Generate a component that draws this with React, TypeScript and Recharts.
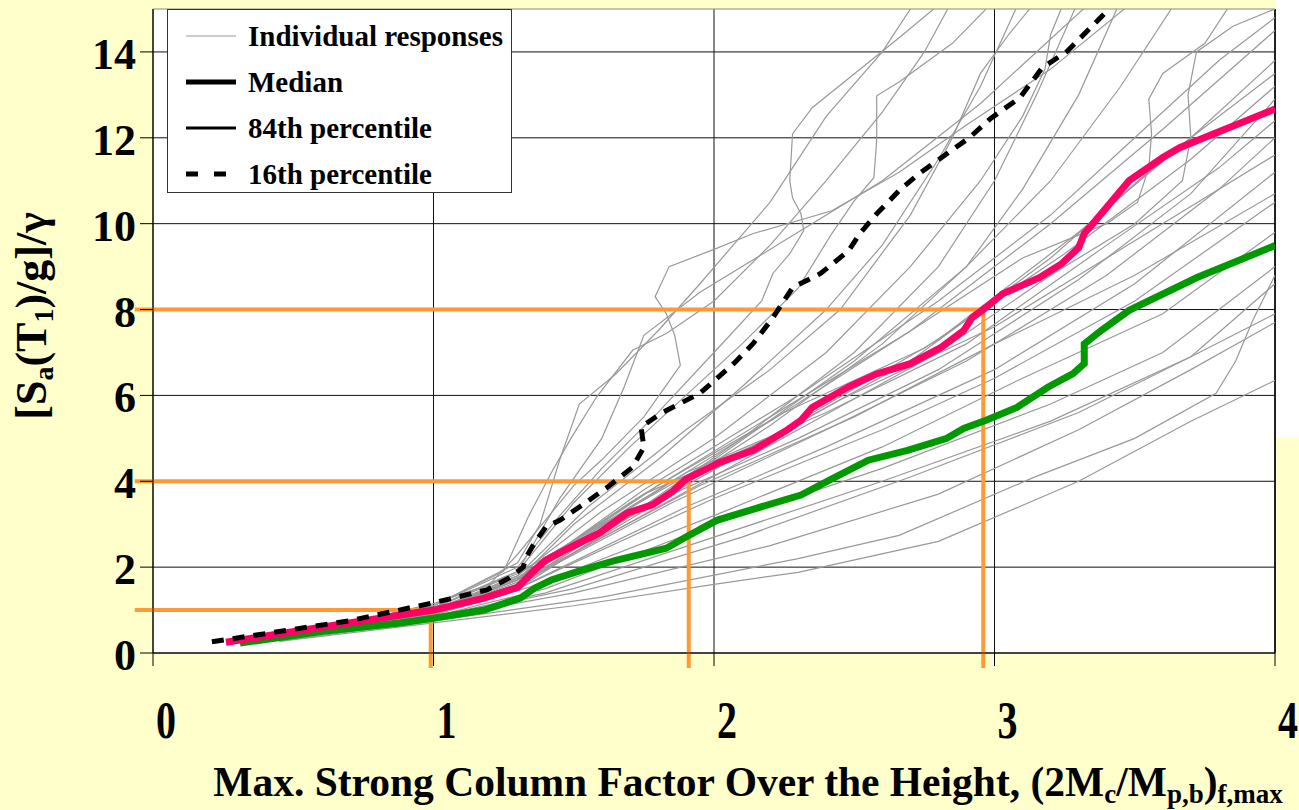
import React from "react"
import { CartesianGrid, Legend, Line, LineChart, ReferenceLine, XAxis, YAxis } from "recharts"

type Pt = [number, number]

const xTicks = [0, 1, 2, 3, 4]
const yTicks = [0, 2, 4, 6, 8, 10, 12, 14]

// thick summary curves: [factor, Sa/g/gamma]
const median: Pt[] = [
  [0.26, 0.25], [0.6, 0.6], [1.0, 1.0], [1.18, 1.28], [1.3, 1.53], [1.36, 1.93], [1.4, 2.16], [1.47, 2.4],
  [1.59, 2.79], [1.69, 3.26], [1.78, 3.45], [1.85, 3.75], [1.9, 4.05], [2.02, 4.44], [2.14, 4.72], [2.26, 5.19],
  [2.31, 5.42], [2.35, 5.72], [2.48, 6.2], [2.58, 6.5], [2.7, 6.74], [2.81, 7.12], [2.89, 7.51], [2.92, 7.81],
  [2.97, 8.05], [3.03, 8.37], [3.16, 8.74], [3.24, 9.07], [3.3, 9.44], [3.32, 9.77], [3.36, 10.07], [3.48, 11.0],
  [3.6, 11.54], [3.66, 11.77], [3.78, 12.09], [4.0, 12.67],
]

const pct84: Pt[] = [
  [0.31, 0.23], [0.6, 0.5], [0.88, 0.7], [1.0, 0.81], [1.18, 1.0], [1.31, 1.28], [1.36, 1.51], [1.42, 1.7],
  [1.53, 1.93], [1.65, 2.16], [1.83, 2.44], [1.9, 2.7], [2.01, 3.09], [2.13, 3.33], [2.31, 3.68], [2.41, 4.02],
  [2.55, 4.49], [2.69, 4.72], [2.83, 5.0], [2.89, 5.23], [2.97, 5.42], [3.08, 5.72], [3.19, 6.19], [3.28, 6.51],
  [3.32, 6.74], [3.32, 7.2], [3.38, 7.51], [3.48, 7.98], [3.72, 8.74], [4.0, 9.49],
]

const pct16: Pt[] = [
  [0.21, 0.26], [0.35, 0.4], [0.7, 0.75], [1.0, 1.17], [1.19, 1.47], [1.27, 1.75], [1.32, 2.0], [1.33, 2.23],
  [1.36, 2.56], [1.4, 2.93], [1.45, 3.09], [1.52, 3.4], [1.62, 3.86], [1.71, 4.33], [1.75, 4.79], [1.74, 5.26],
  [1.81, 5.58], [1.95, 6.05], [2.07, 6.74], [2.14, 7.21], [2.21, 7.81], [2.28, 8.51], [2.38, 8.84], [2.48, 9.37],
  [2.52, 9.77], [2.58, 10.23], [2.66, 10.77], [2.73, 11.16], [2.91, 12.0], [2.99, 12.47], [3.09, 12.93],
  [3.17, 13.63], [3.26, 14.02], [3.39, 14.88],
]

// individual responses (thin grey)
const responses: Pt[][] = [
  [[0.3, 0.3], [0.7, 0.7], [1.0, 1.15], [1.2, 1.6], [1.3, 2.3], [1.4, 3.1], [1.5, 3.9], [1.6, 4.5], [1.75, 5.5], [1.88, 6.7], [1.86, 7.4], [1.83, 7.9], [1.79, 8.3], [1.84, 9.0], [2.0, 9.4], [2.14, 9.77], [2.42, 10.3], [2.66, 11.2], [2.9, 12.3], [3.2, 13.6], [3.5, 15.2]],
  [[0.35, 0.3], [1.0, 1.1], [1.3, 2.0], [1.45, 3.2], [1.6, 4.3], [1.8, 5.6], [2.0, 7.0], [2.17, 8.2], [2.21, 8.84], [2.27, 9.3], [2.32, 9.84], [2.31, 10.23], [2.28, 10.6], [2.27, 11.0], [2.28, 12.09], [2.35, 12.7], [2.66, 14.33], [2.82, 15.2]],
  [[0.4, 0.3], [1.0, 1.05], [1.3, 1.9], [1.5, 3.5], [1.7, 4.8], [1.9, 6.0], [2.1, 7.2], [2.3, 8.5], [2.42, 9.77], [2.5, 10.53], [2.57, 11.07], [2.58, 11.93], [2.58, 12.98], [2.66, 13.3], [2.85, 14.2], [3.0, 15.2]],
  [[0.3, 0.28], [1.0, 1.0], [1.3, 1.7], [1.5, 3.0], [1.8, 4.5], [2.1, 6.2], [2.4, 8.0], [2.6, 9.5], [2.8, 11.5], [2.95, 13.2], [3.09, 15.2]],
  [[0.35, 0.3], [1.0, 1.0], [1.3, 1.8], [1.6, 3.3], [2.0, 5.0], [2.4, 7.0], [2.7, 9.0], [2.95, 11.0], [3.1, 12.5], [3.18, 13.6], [3.2, 14.4], [3.25, 15.2]],
  [[0.3, 0.25], [1.0, 0.95], [1.3, 1.6], [1.7, 3.2], [2.1, 5.0], [2.5, 7.0], [2.8, 9.0], [3.0, 11.0], [3.15, 13.0], [3.3, 15.2]],
  [[0.4, 0.3], [1.0, 0.95], [1.35, 1.7], [1.8, 3.6], [2.2, 5.3], [2.6, 7.2], [2.9, 9.0], [3.1, 10.8], [3.3, 13.0], [3.45, 15.2]],
  [[0.35, 0.3], [1.0, 0.98], [1.3, 1.75], [1.7, 3.5], [2.2, 5.5], [2.7, 7.5], [3.1, 9.2], [3.4, 10.0], [3.51, 10.5], [3.55, 11.3], [3.56, 12.1], [3.55, 12.9], [3.6, 13.5], [3.75, 14.2], [3.85, 15.2]],
  [[0.4, 0.28], [1.0, 0.9], [1.3, 1.6], [1.8, 3.4], [2.3, 5.2], [2.8, 7.0], [3.2, 8.8], [3.5, 10.0], [3.67, 11.0], [3.7, 12.0], [3.69, 13.0], [3.72, 14.0], [3.85, 14.6], [4.0, 15.0]],
  [[0.3, 0.3], [1.0, 1.05], [1.3, 1.85], [1.6, 3.0], [2.0, 4.5], [2.5, 6.8], [2.9, 9.0], [3.2, 11.0], [3.45, 13.2], [3.65, 15.2]],
  [[0.35, 0.3], [1.0, 1.1], [1.25, 1.9], [1.34, 3.2], [1.42, 4.2], [1.49, 5.0], [1.58, 5.95], [1.71, 7.05], [1.83, 7.44], [2.0, 8.2], [2.2, 9.5], [2.4, 11.0], [2.6, 12.6], [2.75, 14.0], [2.85, 15.2]],
  [[0.35, 0.3], [1.0, 1.1], [1.3, 2.1], [1.38, 3.0], [1.45, 4.5], [1.52, 5.8], [1.65, 6.5], [1.8, 7.5], [1.95, 8.6], [2.2, 10.5], [2.4, 12.5], [2.6, 14.0], [2.72, 15.2]],
  [[0.3, 0.3], [1.0, 1.05], [1.3, 1.9], [1.45, 3.6], [1.6, 5.0], [1.68, 6.2], [1.75, 7.4], [1.95, 8.4], [2.25, 9.6], [2.6, 11.0], [2.95, 12.8], [3.2, 14.3], [3.35, 15.2]],
  [[0.4, 0.3], [1.0, 1.0], [1.3, 1.8], [1.55, 3.4], [1.9, 5.2], [2.2, 6.6], [2.45, 8.0], [2.7, 10.2], [2.85, 12.0], [2.95, 13.5], [3.05, 14.4], [3.15, 15.2]],
  [[0.35, 0.28], [1.0, 0.95], [1.3, 1.7], [1.75, 3.8], [2.3, 6.0], [2.8, 8.2], [3.2, 10.2], [3.5, 12.0], [3.8, 13.8], [4.0, 14.8]],
  [[0.35, 0.3], [1.0, 1.0], [1.3, 1.7], [1.7, 3.4], [2.2, 5.4], [2.7, 7.5], [3.2, 10.0], [3.6, 12.2], [4.0, 14.5]],
  [[0.3, 0.28], [1.0, 0.95], [1.3, 1.6], [1.8, 3.6], [2.3, 5.4], [2.8, 7.3], [3.3, 9.8], [3.7, 12.0], [4.0, 13.8]],
  [[0.4, 0.3], [1.0, 1.0], [1.3, 1.75], [1.75, 3.7], [2.2, 5.0], [2.7, 6.8], [3.2, 9.2], [3.6, 11.5], [4.0, 13.5]],
  [[0.35, 0.3], [1.0, 0.95], [1.3, 1.7], [1.8, 3.9], [2.25, 5.6], [2.75, 7.1], [3.25, 9.3], [3.7, 11.5], [4.0, 13.2]],
  [[0.3, 0.25], [1.0, 0.9], [1.3, 1.55], [1.85, 3.7], [2.3, 5.0], [2.8, 6.6], [3.3, 8.7], [3.7, 10.7], [4.0, 12.9]],
  [[0.4, 0.3], [1.0, 0.98], [1.32, 1.8], [1.9, 4.2], [2.4, 5.6], [2.9, 7.2], [3.4, 9.5], [3.8, 11.3], [4.0, 12.4]],
  [[0.35, 0.28], [1.0, 0.92], [1.3, 1.6], [1.85, 3.5], [2.4, 5.2], [2.9, 6.8], [3.4, 8.8], [3.8, 10.8], [4.0, 12.0]],
  [[0.35, 0.3], [1.0, 0.95], [1.3, 1.7], [1.9, 3.9], [2.45, 5.9], [3.0, 7.6], [3.5, 9.6], [4.0, 11.6]],
  [[0.3, 0.27], [1.0, 0.9], [1.3, 1.5], [1.9, 3.4], [2.4, 4.8], [3.0, 6.6], [3.5, 8.6], [4.0, 11.2]],
  [[0.4, 0.3], [1.0, 0.95], [1.3, 1.65], [1.95, 3.9], [2.5, 5.5], [3.0, 7.2], [3.5, 8.8], [4.0, 10.7]],
  [[0.35, 0.3], [1.0, 0.9], [1.3, 1.5], [2.0, 3.6], [2.6, 5.2], [3.0, 6.4], [3.5, 8.2], [4.0, 10.5]],
  [[0.3, 0.26], [1.0, 0.88], [1.35, 1.55], [2.0, 3.2], [2.6, 4.8], [3.1, 6.4], [3.6, 7.9], [4.0, 9.8]],
  [[0.4, 0.28], [1.0, 0.85], [1.4, 1.5], [2.0, 3.0], [2.6, 4.3], [3.2, 5.8], [3.6, 7.0], [4.0, 9.0]],
  [[0.35, 0.27], [1.0, 0.85], [1.4, 1.4], [2.0, 2.7], [2.6, 4.0], [3.2, 5.4], [3.7, 6.9], [4.0, 8.6]],
  [[0.45, 0.3], [1.0, 0.82], [1.5, 1.5], [2.1, 2.7], [2.7, 4.1], [3.3, 5.6], [3.7, 6.9], [4.0, 7.9]],
  [[0.4, 0.28], [1.0, 0.8], [1.5, 1.4], [2.2, 2.5], [2.8, 3.7], [3.3, 5.2], [3.7, 6.6], [4.0, 7.7]],
  [[0.45, 0.28], [1.0, 0.75], [1.6, 1.3], [2.3, 2.2], [2.66, 2.74], [3.14, 4.09], [3.5, 5.0], [3.79, 6.05], [3.86, 6.8], [3.92, 7.74], [4.0, 8.8]],
  [[0.45, 0.27], [1.0, 0.7], [1.5, 1.1], [2.0, 1.6], [2.3, 1.88], [2.8, 2.6], [3.3, 4.0], [3.7, 5.4], [4.0, 6.35]],
]

// orange read-off guides: [factor, intensity]
const guides: Pt[] = [[0.99, 1], [1.91, 4], [2.96, 8]]

const FONT = "'Liberation Serif', 'Times New Roman', serif"

const toPoints = (pts: Pt[]) => pts.map(([x, y]) => ({ x, y }))

const YTick = ({ x, y, payload }: any) => (
  <text x={x} y={y + 17} textAnchor="end" fontFamily={FONT} fontWeight="bold" fontSize={44} fill="#000">
    {payload.value}
  </text>
)

const XTick = ({ x, y, payload }: any) => (
  <text
    transform={`translate(${x + 13},${y + 72}) scale(1,1.3)`}
    textAnchor="middle"
    fontFamily={FONT}
    fontWeight="bold"
    fontSize={40}
    fill="#000"
  >
    {payload.value}
  </text>
)

const XTitle = () => (
  <text x={748} y={796} textAnchor="middle" fontFamily={FONT} fontWeight="bold" fontSize={41.5} fill="#000">
    Max. Strong Column Factor Over the Height, (2M
    <tspan fontSize={27} dy={7}>c</tspan>
    <tspan dy={-7}>/M</tspan>
    <tspan fontSize={27} dy={7}>p,b</tspan>
    <tspan dy={-7}>)</tspan>
    <tspan fontSize={27} dy={7}>f,max</tspan>
  </text>
)

const YTitle = () => (
  <text
    transform="translate(46,316) rotate(-90)"
    textAnchor="middle"
    fontFamily={FONT}
    fontWeight="bold"
    fontSize={44}
    fill="#000"
  >
    [S<tspan fontSize={28} dy={7}>a</tspan>
    <tspan dy={-7}>(T</tspan>
    <tspan fontSize={28} dy={7}>1</tspan>
    <tspan dy={-7}>)/g]/γ</tspan>
  </text>
)

const legendRows = [
  { label: "Individual responses", color: "#999999", width: 1, dash: undefined as string | undefined },
  { label: "Median", color: "#000", width: 5, dash: undefined },
  { label: "84th percentile", color: "#000", width: 3, dash: undefined },
  { label: "16th percentile", color: "#000", width: 5, dash: "12 16" },
]

const LegendBox = () => (
  <div
    style={{
      width: 343,
      height: 182,
      background: "#fff",
      border: "1px solid #333",
      fontFamily: FONT,
      fontWeight: "bold",
      fontSize: 29,
      color: "#000",
      position: "relative",
    }}
  >
    {legendRows.map((r, i) => (
      <div key={r.label} style={{ position: "absolute", left: 0, top: 6 + i * 46, height: 40, display: "flex", alignItems: "center" }}>
        <svg width={80} height={40}>
          <line x1={18} x2={68} y1={20} y2={20} stroke={r.color} strokeWidth={r.width} strokeDasharray={r.dash} />
        </svg>
        <span style={{ whiteSpace: "nowrap" }}>{r.label}</span>
      </div>
    ))}
  </div>
)

export default function App() {
  return (
    <div style={{ position: "absolute", left: 0, top: 0, width: 1299, height: 810, background: "#FFFFCC" }}>
      <div style={{ position: "absolute", left: 1276, top: 0, width: 23, height: 437, background: "#fff" }} />
      <LineChart width={1299} height={810} margin={{ top: 9, right: 24, bottom: 0, left: 0 }} style={{ position: "absolute", left: 0, top: 0 }}>
        <CartesianGrid fill="#fff" fillOpacity={1} stroke="#111" strokeWidth={1} horizontalValues={yTicks} verticalValues={xTicks} />
        <XAxis
          type="number"
          dataKey="x"
          domain={[0, 4]}
          ticks={xTicks}
          allowDataOverflow
          height={157}
          tickSize={13}
          tickMargin={0}
          tickLine={{ stroke: "#000" }}
          axisLine={{ stroke: "#000" }}
          tick={<XTick />}
          label={<XTitle />}
        />
        <YAxis
          type="number"
          dataKey="y"
          domain={[0, 15]}
          ticks={yTicks}
          allowDataOverflow
          width={153}
          tickSize={13}
          tickMargin={4}
          tickLine={{ stroke: "#000" }}
          axisLine={{ stroke: "#000" }}
          tick={<YTick />}
          label={<YTitle />}
        />
        <ReferenceLine y={15} stroke="#888" strokeWidth={1} />
        <ReferenceLine x={4} stroke="#000" strokeWidth={1.5} />
        {responses.map((r, i) => (
          <Line
            key={`resp-${i}`}
            data={toPoints(r)}
            dataKey="y"
            type="linear"
            stroke="#999999"
            strokeWidth={1.2}
            dot={false}
            activeDot={false}
            legendType="none"
            isAnimationActive={false}
          />
        ))}
        {guides.map(([gx, gy], i) => (
          <ReferenceLine
            key={`gh-${i}`}
            segment={[{ x: -0.065, y: gy }, { x: gx, y: gy }]}
            stroke="#FF9933"
            strokeWidth={4}
            ifOverflow="visible"
          />
        ))}
        {guides.map(([gx, gy], i) => (
          <ReferenceLine
            key={`gv-${i}`}
            segment={[{ x: gx, y: gy }, { x: gx, y: -0.35 }]}
            stroke="#FF9933"
            strokeWidth={4}
            ifOverflow="visible"
          />
        ))}
        <Line data={toPoints(pct84)} dataKey="y" type="linear" stroke="#009900" strokeWidth={7} dot={false} isAnimationActive={false} />
        <Line data={toPoints(median)} dataKey="y" type="linear" stroke="#FF0066" strokeWidth={7} dot={false} isAnimationActive={false} />
        <Line
          data={toPoints(pct16)}
          dataKey="y"
          type="linear"
          stroke="#000"
          strokeWidth={5}
          strokeDasharray="12 9"
          dot={false}
          isAnimationActive={false}
        />
        <Legend
          layout="vertical"
          align="center"
          verticalAlign="middle"
          content={<LegendBox />}
          wrapperStyle={{ left: 167, top: 9, width: 345, height: 184 }}
        />
      </LineChart>
    </div>
  )
}
